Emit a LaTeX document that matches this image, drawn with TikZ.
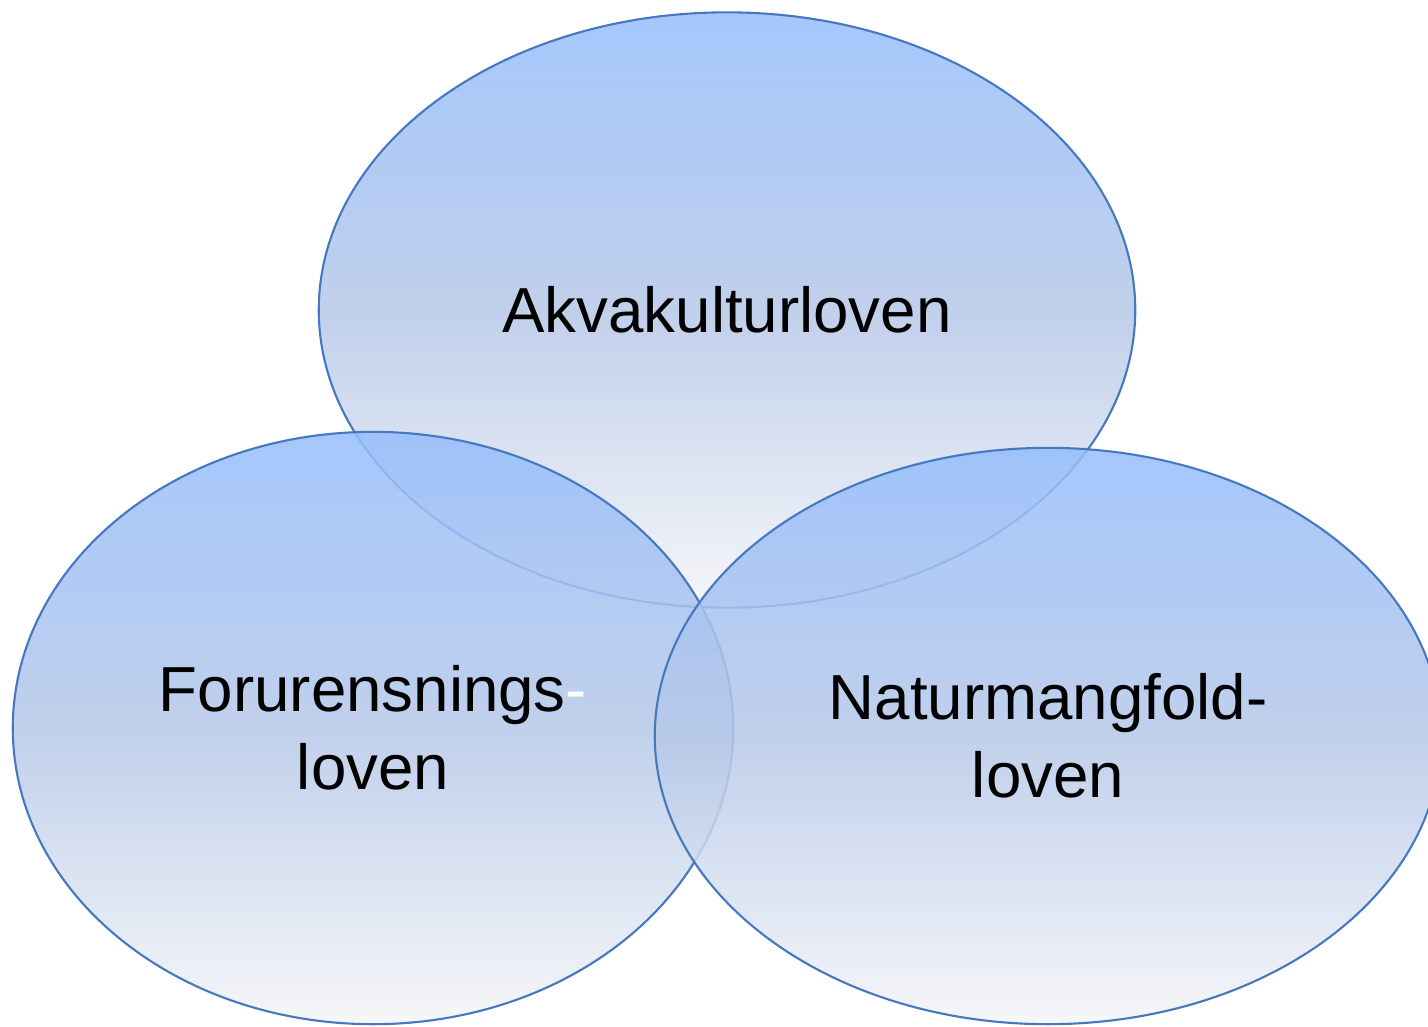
\documentclass[tikz,border=0pt]{standalone}
\usepackage{fontspec}
\setmainfont{Liberation Sans}
\usepackage{tikz}
\usetikzlibrary{shapes.geometric,positioning}
\definecolor{vennTop}{RGB}{150,190,252}
\definecolor{vennMid}{RGB}{182,200,232}
\definecolor{vennBottom}{RGB}{244,245,247}
\definecolor{vennEdge}{RGB}{70,120,192}

\begin{document}
\begin{tikzpicture}[x=0.01cm, y=-0.01cm,
  every node/.style={font=\fontsize{18.1}{22.2}\selectfont},
  lawset/.style={ellipse, draw=vennEdge, line width=0.6pt, inner sep=0pt,
    top color=vennTop, bottom color=vennBottom, middle color=vennMid,
    fill opacity=0.86, draw opacity=1, text opacity=1, align=center}]
  \useasboundingbox (0,0) rectangle (1428,1026);
  % Three laws
  \node[lawset, minimum width=8.16cm, minimum height=5.95cm] (akva) at (727,310) {Akvakulturloven};
  \node[lawset, minimum width=7.20cm, minimum height=5.92cm] (forur) at (373,728) {Forurensnings\textcolor{white}{-}\\loven};
  \node[lawset, minimum width=7.86cm, minimum height=5.76cm] (natur) at (1048,736) {Naturmangfold-\\loven};
\end{tikzpicture}
\end{document}
